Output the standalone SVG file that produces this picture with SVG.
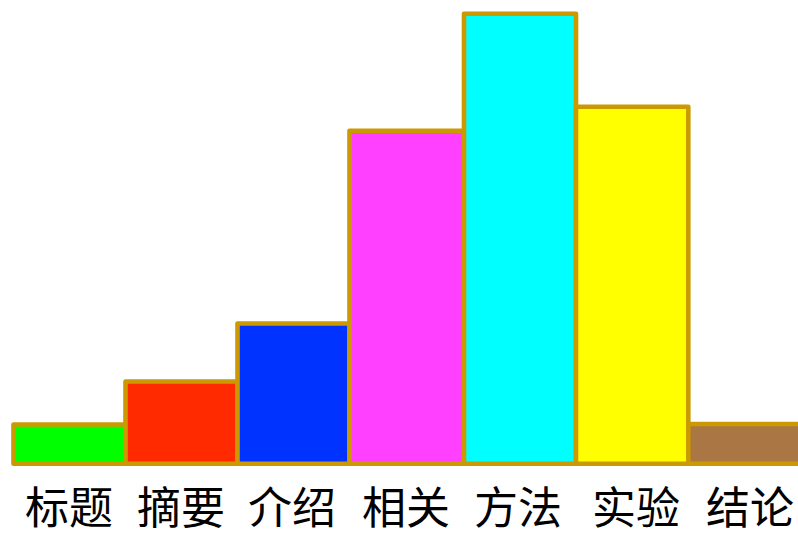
<svg xmlns="http://www.w3.org/2000/svg" width="798" height="538" viewBox="0 0 798 538">
<style>
.bar{stroke:#CC9900;stroke-width:4.6;stroke-linejoin:round}
.lbl{font-family:"Noto Sans CJK SC","Noto Sans",sans-serif;font-size:44px;fill:#000;text-anchor:middle}
</style>
<rect x="0" y="0" width="798" height="538" fill="#FFFFFF"/>
<g id="bar-biaoti"><rect class="bar" x="13.5" y="424.5" width="112" height="39.3" fill="#00FF00"/><text class="lbl" x="69" y="524">标题</text></g>
<g id="bar-zhaiyao"><rect class="bar" x="125.5" y="381.5" width="112" height="82.3" fill="#FF2A00"/><text class="lbl" x="181" y="524">摘要</text></g>
<g id="bar-jieshao"><rect class="bar" x="237.5" y="323.5" width="112" height="140.3" fill="#0033FF"/><text class="lbl" x="292" y="524">介绍</text></g>
<g id="bar-xiangguan"><rect class="bar" x="349.5" y="130.8" width="114.5" height="333" fill="#FF40FF"/><text class="lbl" x="406" y="524">相关</text></g>
<g id="bar-fangfa"><rect class="bar" x="464" y="13.8" width="112" height="450" fill="#00FFFF"/><text class="lbl" x="518" y="524">方法</text></g>
<g id="bar-shiyan"><rect class="bar" x="576" y="106.8" width="112.3" height="357" fill="#FFFF00"/><text class="lbl" x="636" y="524">实验</text></g>
<g id="bar-jielun"><rect class="bar" x="688.3" y="424" width="120" height="39.8" fill="#AA7744"/><text class="lbl" x="750" y="524">结论</text></g>
</svg>
